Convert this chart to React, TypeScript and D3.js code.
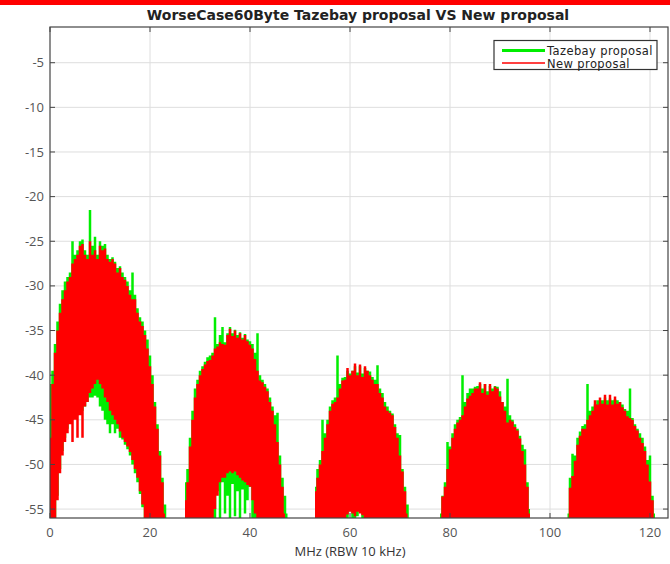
import React from "react";
import * as d3 from "d3";

const W = 670;
const H = 564;
const STEP = 0.5; // MHz between readings
const FLOOR = -60; // below axis: trace runs off the bottom

const xTicks = [0, 20, 40, 60, 80, 100, 120];
const yTicks = [-5, -10, -15, -20, -25, -30, -35, -40, -45, -50, -55];
const seriesNames = ["Tazebay proposal", "New proposal"];

// start frequency (MHz) of each lobe
const lobeStart = [0, 27, 53, 78, 103.5];

// New proposal (red) upper envelope per lobe, 0.5 MHz readings
const redUpper: number[][] = [
  [-47, -41, -37.5, -35, -33, -31.5, -30.5, -29.5, -29, -27.5, -27, -26.5, -25.5, -25.3, -26.5, -27, -25, -26.5, -26, -27, -25.5, -26, -25.8, -27, -27.3, -27, -27.5, -28.5, -28, -29, -29.3, -30, -31, -31.5, -31.5, -33, -34, -34.5, -35.5, -37, -39, -41, -43.5, -46, -49, -52, -55.5],
  [-54, -52, -48, -45, -42.5, -41, -40, -39.3, -38.8, -38.4, -38.3, -37.8, -37, -36.8, -36.3, -36.5, -36.6, -35.5, -34.8, -35.6, -35, -35.8, -35.3, -36, -35.5, -36.2, -36.6, -37, -38.2, -39.5, -40.6, -40.8, -41.3, -41.8, -43, -44, -45.5, -47.5, -50, -52.5, -55.5],
  [-53, -51.5, -50, -48.5, -47, -45.5, -44, -43.2, -43, -42.5, -41.5, -40.6, -40.5, -39.2, -40, -39.5, -38.7, -40, -38.8, -40.2, -39, -39.5, -40, -40.5, -41, -41, -42, -42.5, -43.5, -44, -44.2, -44.5, -45.8, -47, -49, -50.8, -53, -55.5],
  [-56, -53.6, -52.5, -50.5, -48.3, -47, -46, -45.3, -45, -44.5, -43.5, -42.6, -42.3, -42, -41.5, -41.5, -40.8, -42, -41, -42.2, -41, -41.8, -41.3, -41.5, -42.4, -43, -44, -45.3, -45, -45.2, -45.8, -46.2, -47.1, -48.5, -50, -52.5, -55.5],
  [-56, -52.6, -51.3, -49.6, -47.8, -46.8, -46, -46, -45, -44.5, -44, -42.8, -43.3, -42.5, -43.2, -42.2, -43.3, -42.2, -43.3, -42.4, -43.2, -43, -43.6, -44, -44.6, -44.8, -45, -45.7, -46.2, -47, -47.6, -48.5, -50, -51.9, -54, -56],
];

// Tazebay proposal (green) upper envelope per lobe
const greenUpper: number[][] = [
  [-41, -39.5, -36.5, -34, -32, -30.5, -29.5, -29, -28.5, -25, -26.5, -26, -25, -24.8, -26, -26.5, -21.5, -25.5, -24.5, -26.5, -25, -25.5, -25.3, -26.5, -27, -26.8, -27.3, -28, -27.8, -28.5, -29, -29.5, -30.5, -28.5, -31, -32.5, -33.5, -34, -35, -36, -37.8, -40, -43, -45.5, -48.5, -51.5, -54.5, -56],
  [-52, -50.5, -47, -44, -41.5, -40.5, -39.5, -39, -38.5, -38, -37.8, -37.5, -33.5, -36.5, -35.5, -34.6, -36.3, -35.3, -34.6, -35.3, -34.9, -35.5, -35.2, -35.8, -35.4, -36, -36.2, -36.5, -37.5, -35.3, -40, -40.5, -41, -41.5, -42.5, -43.5, -44.5, -44.2, -49, -51.5, -53.5, -55.5],
  [-52.5, -50.5, -49.5, -45, -46.5, -45, -43.5, -42.8, -42.5, -37.8, -41, -40.3, -40.2, -39.5, -39.8, -39.5, -39, -39.7, -39, -39.8, -39.2, -39.5, -39.6, -40.2, -40.5, -38.9, -41.5, -42, -43, -43.5, -44, -44.3, -45.5, -46.5, -46.7, -50.5, -52.5, -54.5, -56],
  [-55.5, -53.5, -52, -47.5, -48, -46.5, -45.5, -45, -44.7, -40, -43, -42, -41.5, -41.5, -41.3, -41.2, -41, -41.5, -41, -41.8, -41.2, -41.5, -41.2, -41.3, -41.8, -43, -43.5, -40.4, -44.5, -45, -45.5, -46, -46.8, -47.8, -48.3, -52, -55],
  [-55.5, -51.5, -48.8, -49, -47, -46.3, -45.7, -45.5, -41, -44, -43.5, -43.3, -42.8, -42.8, -42.8, -42.5, -42.8, -42.6, -42.8, -42.7, -42.8, -43, -43.3, -43.8, -44, -41.5, -44.8, -45.5, -46, -46.5, -47, -48, -49.5, -49, -53.5, -55.5],
];

// lower edge of the hollow under a lobe (elsewhere the trace reaches the floor)
const hollowStart: (number | null)[] = [1, 32.5, 59, null, null];
const redHollow: number[][] = [
  [-58, -54, -51, -49, -47.5, -46.5, -45.5, -47.5, -45, -47, -44.5, -47, -43.5, -43, -42, -41.5, -41, -40.5, -41, -41.5, -42.5, -43, -44, -44.5, -45, -45.5, -46.3, -47, -47.5, -48, -48.6, -49.5, -50.5, -51.5, -53, -54.5, -56, -58],
  [-57, -55, -53.5, -52, -51.5, -51.5, -51, -50.8, -51, -50.8, -51.2, -51.5, -51.8, -52, -52.3, -52.5, -54, -55.5, -57],
  [-57, -55.6, -55.3, -55.5, -55.8, -55.3, -55.5, -55.7, -57],
  [],
  [],
];
const greenHollow: number[][] = [
  [-58, -53.5, -50.5, -48.5, -47, -46, -45, -45, -44.5, -44.5, -44, -44, -43.5, -43, -42.5, -42.5, -42.3, -42.5, -43.5, -44, -45, -45.5, -46.5, -45.5, -46.5, -46, -47, -47.2, -47.8, -48.3, -49, -50, -51, -52, -53.3, -54.8, -56, -58],
  [-58, -57, -53, -56, -52, -55.5, -53.5, -56, -52.2, -55.8, -53, -56.5, -52.8, -55.5, -54, -52.5, -56, -57, -58],
  [-58, -56, -54.5, -56, -56.5, -55.8, -54.3, -56.5, -58],
  [],
  [],
];

const L = 50, R = 668, T = 27, B = 518;

type Pt = { f: number; hi: number; lo: number };

function buildLobe(upper: number[], hollow: number[], hs: number | null, start: number): Pt[] {
  return upper.map((hi, j) => {
    const f = start + j * STEP;
    let lo = FLOOR;
    if (hs != null) {
      const k = Math.round((f - hs) / STEP);
      if (k >= 0 && k < hollow.length) lo = hollow[k];
    }
    return { f, hi, lo };
  });
}

export default function App() {
  const x = d3.scaleLinear().domain([0, 123.6]).range([L, R]);
  const y = d3.scaleLinear().domain([-56, -1]).range([B, T]);
  const area = d3
    .area<Pt>()
    .x((d) => x(d.f))
    .y0((d) => y(d.lo))
    .y1((d) => y(d.hi))
    .curve(d3.curveStep);

  const greenPaths = greenUpper.map((u, i) => area(buildLobe(u, greenHollow[i], hollowStart[i], lobeStart[i])) || "");
  const redPaths = redUpper.map((u, i) => area(buildLobe(u, redHollow[i], hollowStart[i], lobeStart[i])) || "");

  const font = "'Open Sans', 'DejaVu Sans', sans-serif";
  const wideFont = "'DejaVu Sans', sans-serif";
  const axisCol = "#444";

  return (
    <div style={{ position: "absolute", left: 0, top: 0 }}>
      <svg width={W} height={H} style={{ display: "block", background: "#fff" }}>
        <defs>
          <clipPath id="plotClip">
            <rect x={L} y={T} width={R - L} height={B - T} />
          </clipPath>
        </defs>
        <rect x={0} y={0} width={W} height={5} fill="#ff0000" />
        <text x={358} y={20} textAnchor="middle" fontFamily={wideFont} fontWeight="bold" fontSize={14} fill="#222">
          WorseCase60Byte Tazebay proposal VS New proposal
        </text>
        {/* grid */}
        <g stroke="#dedede" strokeWidth={1}>
          {xTicks.filter((t) => t > 0).map((t) => (
            <line key={"gx" + t} x1={x(t)} x2={x(t)} y1={T} y2={B} />
          ))}
          {yTicks.map((t) => (
            <line key={"gy" + t} x1={L} x2={R} y1={y(t)} y2={y(t)} />
          ))}
        </g>
        {/* data */}
        <g clipPath="url(#plotClip)">
          {greenPaths.map((p, i) => (
            <path key={"g" + i} d={p} fill="#00ee00" />
          ))}
          {redPaths.map((p, i) => (
            <path key={"r" + i} d={p} fill="#ff0000" />
          ))}
        </g>
        {/* box and ticks */}
        <rect x={L} y={T} width={R - L} height={B - T} fill="none" stroke={axisCol} strokeWidth={1.2} />
        <g stroke={axisCol} strokeWidth={1}>
          {xTicks.map((t) => (
            <g key={"tx" + t}>
              <line x1={x(t)} x2={x(t)} y1={B} y2={B - 5} />
              <line x1={x(t)} x2={x(t)} y1={T} y2={T + 5} />
            </g>
          ))}
          {yTicks.map((t) => (
            <g key={"ty" + t}>
              <line x1={L} x2={L + 5} y1={y(t)} y2={y(t)} />
              <line x1={R} x2={R - 5} y1={y(t)} y2={y(t)} />
            </g>
          ))}
        </g>
        <g fontFamily={font} fontSize={13} fill="#555">
          {xTicks.map((t) => (
            <text key={"lx" + t} x={x(t)} y={537} textAnchor="middle">
              {String(t)}
            </text>
          ))}
          {yTicks.map((t) => (
            <text key={"ly" + t} x={44} y={y(t)} dy="0.35em" textAnchor="end">
              {String(t)}
            </text>
          ))}
        </g>
        <text x={350} y={556} textAnchor="middle" fontFamily={font} fontSize={13} fill="#333">
          MHz (RBW 10 kHz)
        </text>
        {/* legend */}
        <g>
          <rect x={494} y={40.5} width={163} height={29} fill="#fff" stroke="#333" strokeWidth={1.2} />
          <line x1={502} x2={545} y1={50.5} y2={50.5} stroke="#00ee00" strokeWidth={3} />
          <line x1={502} x2={545} y1={63} y2={63} stroke="#ff0000" strokeWidth={1.5} />
          <text x={547} y={50.5} dy="0.35em" fontFamily={wideFont} fontSize={11.5} letterSpacing={0.4} fill="#222">
            {seriesNames[0]}
          </text>
          <text x={547} y={63.5} dy="0.35em" fontFamily={wideFont} fontSize={11.5} letterSpacing={0.4} fill="#222">
            {seriesNames[1]}
          </text>
        </g>
      </svg>
    </div>
  );
}
